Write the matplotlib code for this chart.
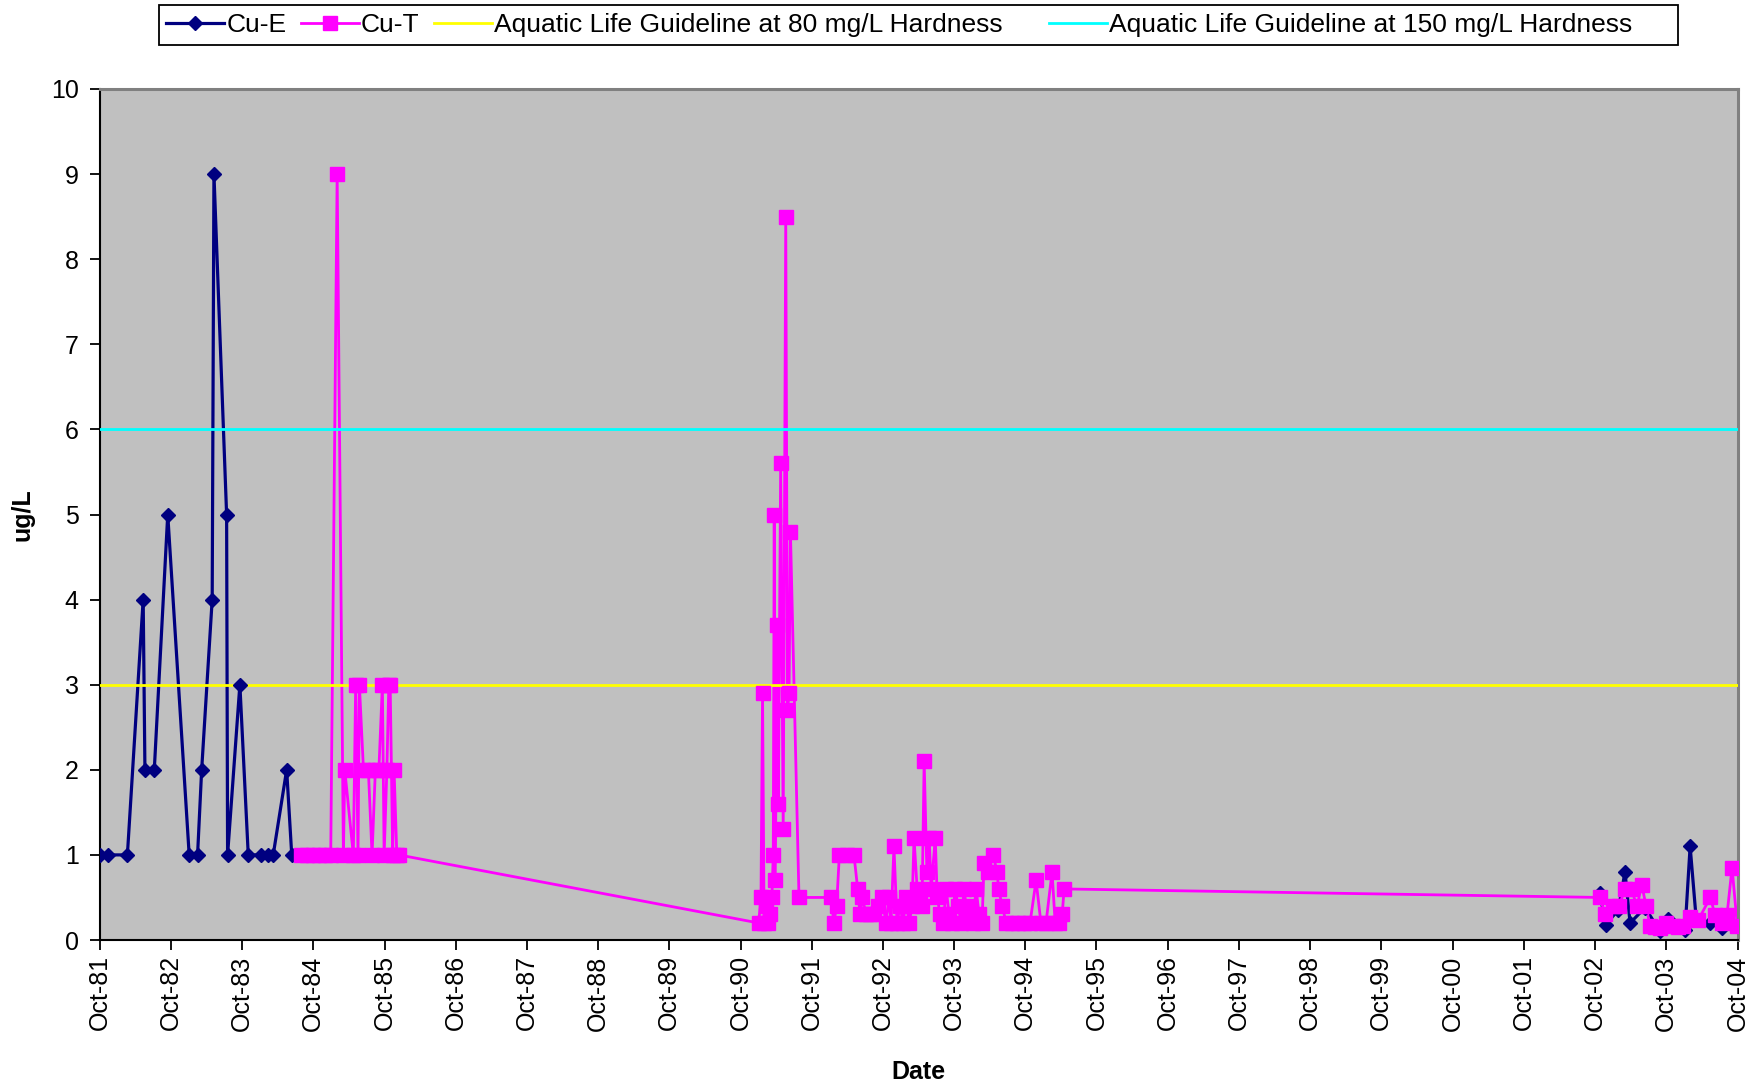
import matplotlib
matplotlib.use('Agg')
import matplotlib.pyplot as plt
from matplotlib.lines import Line2D
from matplotlib.patches import Rectangle
import pandas as pd

plt.rcParams['font.family'] = ['Liberation Sans', 'DejaVu Sans']

# ---------------- data ----------------
cu_e_dates_early = ['1981-10-02', '1981-11-14', '1982-02-20', '1982-05-12', '1982-05-21',
                    '1982-07-08', '1982-09-15', '1983-01-03', '1983-02-15', '1983-03-08',
                    '1983-05-01', '1983-05-10', '1983-07-14', '1983-07-19', '1983-09-20',
                    '1983-11-02', '1984-01-04', '1984-02-09', '1984-03-09', '1984-05-17',
                    '1984-06-12']
cu_e_values_early = [1, 1, 1, 4, 2, 2, 5, 1, 1, 2, 4, 9, 5, 1, 3, 1, 1, 1, 1, 2, 1]

cu_e_dates_late = ['2002-10-27', '2002-11-24', '2003-01-28', '2003-03-04', '2003-03-30',
                   '2003-06-15', '2003-08-31', '2003-10-11', '2004-01-06', '2004-02-01',
                   '2004-03-03', '2004-05-14', '2004-07-13']
cu_e_values_late = [0.55, 0.18, 0.35, 0.8, 0.2, 0.38, 0.1, 0.25, 0.12, 1.1, 0.25, 0.2, 0.14]

cu_t_dates = [
    # 1984-85
    '1984-07-28', '1984-08-28', '1984-09-28', '1984-10-29', '1984-11-29', '1984-12-29',
    '1985-01-31', '1985-03-04', '1985-03-11', '1985-04-24', '1985-05-06', '1985-05-18',
    '1985-05-25', '1985-06-15', '1985-07-10', '1985-07-29', '1985-08-15', '1985-09-02',
    '1985-09-20', '1985-09-29', '1985-10-13', '1985-10-23', '1985-10-30', '1985-11-12',
    '1985-11-19', '1985-12-03', '1985-12-13',
    # 1991
    '1991-01-02', '1991-01-14', '1991-01-22', '1991-01-30', '1991-02-09', '1991-02-19',
    '1991-03-01', '1991-03-11', '1991-03-18', '1991-03-23', '1991-03-28', '1991-04-08',
    '1991-04-13', '1991-04-25', '1991-05-08', '1991-05-21', '1991-05-30', '1991-06-07',
    '1991-06-14', '1991-07-28',
    # 1992-95
    '1992-01-08', '1992-01-23', '1992-02-06', '1992-02-20', '1992-03-29', '1992-05-05',
    '1992-05-24', '1992-06-05', '1992-06-17', '1992-07-06', '1992-07-26', '1992-08-16',
    '1992-09-05', '1992-09-26', '1992-10-16', '1992-11-01', '1992-11-11', '1992-11-26',
    '1992-12-12', '1992-12-27', '1993-01-12', '1993-01-27', '1993-02-12', '1993-02-27',
    '1993-03-09', '1993-03-25', '1993-04-09', '1993-04-19', '1993-04-30', '1993-05-14',
    '1993-05-26', '1993-06-05', '1993-06-26', '1993-07-06', '1993-07-21', '1993-08-06',
    '1993-08-21', '1993-09-05', '1993-09-21', '1993-10-06', '1993-10-21', '1993-11-06',
    '1993-11-21', '1993-12-06', '1993-12-21', '1994-01-06', '1994-01-21', '1994-02-06',
    '1994-02-21', '1994-03-03', '1994-03-24', '1994-04-19', '1994-05-09', '1994-05-17',
    '1994-06-04', '1994-06-25', '1994-07-25', '1994-08-25', '1994-09-25', '1994-10-25',
    '1994-11-25', '1994-12-20', '1995-01-15', '1995-02-15', '1995-03-03', '1995-03-24',
    '1995-04-08', '1995-04-18',
    # 2002-04
    '2002-10-27', '2002-11-22', '2003-01-02', '2003-02-02', '2003-03-04', '2003-04-04',
    '2003-05-05', '2003-05-29', '2003-06-20', '2003-07-10', '2003-08-05', '2003-08-31',
    '2003-10-01', '2003-11-06', '2003-12-01', '2003-12-27', '2004-02-01', '2004-03-13',
    '2004-05-14', '2004-06-09', '2004-07-13', '2004-08-08', '2004-09-03', '2004-09-30']
cu_t_values = [
    1, 1, 1, 1, 1, 1,
    9, 1, 2, 1, 3, 1,
    3, 2, 2, 1, 2, 2,
    3, 1, 2, 3, 3, 1,
    2, 1, 1,
    0.2, 0.5, 2.9, 0.2, 0.4, 0.2,
    0.3, 0.5, 1.0, 5.0, 0.7, 3.7,
    1.6, 5.6, 1.3, 8.5, 2.7, 2.9,
    4.8, 0.5,
    0.5, 0.2, 0.4, 1.0, 1.0, 1.0,
    0.6, 0.3, 0.5, 0.3, 0.3, 0.3,
    0.4, 0.5, 0.2, 0.5, 0.2, 1.1,
    0.2, 0.4, 0.2, 0.5, 0.2, 0.4,
    1.2, 0.6, 0.5, 0.4, 2.1, 0.8,
    1.2, 0.6, 1.2, 0.5, 0.3, 0.2,
    0.6, 0.3, 0.2, 0.6, 0.4, 0.2,
    0.6, 0.3, 0.4, 0.2, 0.6, 0.3,
    0.2, 0.9, 0.8, 1.0, 0.8, 0.6,
    0.4, 0.2, 0.2, 0.2, 0.2, 0.2,
    0.7, 0.2, 0.2, 0.8, 0.2, 0.2,
    0.3, 0.6,
    0.5, 0.3, 0.4, 0.4, 0.6, 0.6,
    0.4, 0.65, 0.4, 0.17, 0.15, 0.14,
    0.2, 0.16, 0.15, 0.17, 0.27, 0.23,
    0.5, 0.29, 0.2, 0.29, 0.85, 0.17]

guideline_80 = 3.0
guideline_150 = 6.0

series_labels = ['Cu-E', 'Cu-T',
                 'Aquatic Life Guideline at 80 mg/L Hardness',
                 'Aquatic Life Guideline at 150 mg/L Hardness']
x_start, x_end = '1981-10-01', '2004-10-01'
tick_years = list(range(1981, 2005))
y_ticks = list(range(0, 11))

# ---------------- colours / styles ----------------
NAVY = '#000080'
MAGENTA = '#FF00FF'
YELLOW = '#FFFF00'
CYAN = '#00FFFF'
FS = 18
LEG_FS = 19

# ---------------- figure ----------------
W, H = 1760, 1088
fig = plt.figure(figsize=(W / 100, H / 100), dpi=100)
L, R, T, B = 99.7, 1737.5, 89, 940
ax = fig.add_axes([L / W, 1 - B / H, (R - L) / W, (B - T) / H])
ax.set_facecolor('#C0C0C0')

e_early = pd.Series(cu_e_values_early, index=pd.to_datetime(cu_e_dates_early))
e_late = pd.Series(cu_e_values_late, index=pd.to_datetime(cu_e_dates_late))
t_ser = pd.Series(cu_t_values, index=pd.to_datetime(cu_t_dates))

for s in (e_early, e_late):
    ax.plot(s.index, s.values, color=NAVY, lw=2.3, zorder=2)
ax.plot(t_ser.index, t_ser.values, color=MAGENTA, lw=2.0, zorder=2.1)

ax.axhline(guideline_80, color=YELLOW, lw=2.0, zorder=3)
ax.axhline(guideline_150, color=CYAN, lw=2.0, zorder=3)

for s in (e_early, e_late):
    ax.plot(s.index, s.values, ls='none', marker='D', ms=7.6, mfc=NAVY, mec=NAVY,
            mew=1, zorder=4)
ax.plot(t_ser.index, t_ser.values, ls='none', marker='s', ms=9.8, mfc=MAGENTA,
        mec=MAGENTA, mew=1, zorder=4.1)

# axes
ax.set_xlim(pd.Timestamp(x_start), pd.Timestamp(x_end))
ax.set_ylim(0, 10)
ax.set_yticks(y_ticks)
ax.set_yticklabels([str(v) for v in y_ticks])
xt = [pd.Timestamp(f'{y}-10-01') for y in tick_years]
ax.set_xticks(xt)
ax.set_xticklabels([d.strftime('%b-%y') for d in xt], rotation=90)
ax.tick_params(axis='both', direction='out', length=7, width=1.3, labelsize=FS,
               colors='black')
ax.tick_params(axis='y', pad=8)
ax.tick_params(axis='x', pad=4)

for side in ('left', 'bottom'):
    ax.spines[side].set_color('black')
    ax.spines[side].set_linewidth(1.5)
for side in ('top', 'right'):
    ax.spines[side].set_color('#808080')
    ax.spines[side].set_linewidth(2.2)

ax.set_xlabel('Date', fontsize=FS, fontweight='bold', va='center')
ax.xaxis.set_label_coords(0.5, (B - 1072) / (B - T))
ax.set_ylabel('ug/L', fontsize=FS, fontweight='bold', va='center')
ax.yaxis.set_label_coords((22 - L) / (R - L), 0.5)

# legend: frame drawn as a rectangle, entries placed inside it
fig.add_artist(Rectangle((159 / W, 1 - 45 / H), 1519 / W, 40 / H,
                         transform=fig.transFigure, facecolor='white',
                         edgecolor='black', linewidth=1.3, zorder=1))
handles = [
    Line2D([], [], color=NAVY, lw=2.3, marker='D', ms=7.6, mfc=NAVY, mec=NAVY),
    Line2D([], [], color=MAGENTA, lw=2.0, marker='s', ms=9.8, mfc=MAGENTA, mec=MAGENTA),
    Line2D([], [], color=YELLOW, lw=2.0),
    Line2D([], [], color=CYAN, lw=2.0),
]
leg_kw = dict(loc='center left', frameon=False, fontsize=LEG_FS, handlelength=2.2,
              handletextpad=0.08, columnspacing=0.55, borderpad=0,
              borderaxespad=0, numpoints=1)
leg1 = fig.legend(handles[:3], series_labels[:3], ncol=3,
                  bbox_to_anchor=(166 / W, 1 - 25 / H), **leg_kw)
leg1.set_zorder(5)
leg2 = fig.legend(handles[3:], series_labels[3:], ncol=1,
                  bbox_to_anchor=(1049 / W, 1 - 25 / H), **leg_kw)
leg2.set_zorder(5)

fig.savefig('out.png', dpi=100, facecolor='white')
